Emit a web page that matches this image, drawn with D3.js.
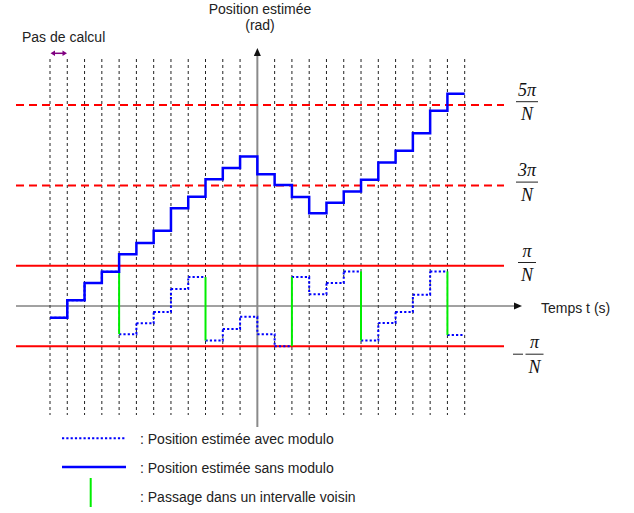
<!DOCTYPE html>
<html>
<head>
<meta charset="utf-8">
<script src="https://cdn.jsdelivr.net/npm/d3@7"></script>
<style>
  body { margin: 0; background: #fff; }
  text { font-family: "Liberation Sans", Arial, sans-serif; font-size: 14px; fill: #222; }
  .frac { font-family: "Liberation Serif", "Times New Roman", serif; font-style: italic; font-size: 18px; fill: #111; }
</style>
</head>
<body>
<div id="chart"></div>
<script>
// Estimated position per computation step, in units of pi/N
var sansModulo = [-0.29, 0.14, 0.57, 0.85, 1.29, 1.57, 1.87, 2.43, 2.72, 3.15, 3.43, 3.72,
                  3.28, 3.01, 2.71, 2.31, 2.57, 2.85, 3.14, 3.57, 3.86, 4.30, 4.86, 5.28];
var avecModulo = [-0.29, 0.14, 0.57, 0.85, -0.70, -0.43, -0.15, 0.42, 0.72, -0.86, -0.57, -0.27,
                  -0.70, -1.00, 0.72, 0.29, 0.57, 0.86, -0.86, -0.42, -0.15, 0.28, 0.86, -0.72];
// steps where the modulo value jumps into the neighbouring interval
var passages = [4, 9, 14, 18, 23];
// reference levels (units of pi/N) and their labels
var niveaux = [5, 3, 1, -1];
var niveauNum = ["5π", "3π", "π", "π"];
var nbPas = 24;

var svgWidth = 634;
var svgHeight = 513;

var svg = d3.select("#chart")
  .append("svg")
  .attr("width", svgWidth)
  .attr("height", svgHeight);

var x = d3.scaleLinear().domain([0, nbPas]).range([50, 464.7]);
var y = d3.scaleLinear().domain([-1, 5]).range([346.2, 105]);

var xLeft = 16, xRight = 504;

// vertical dashed step lines
svg.append("g").selectAll("line")
  .data(d3.range(0, nbPas + 1).filter(function(i) { return i !== 12; }))
  .enter()
  .append("line")
  .attr("x1", d => x(d)).attr("x2", d => x(d))
  .attr("y1", 59).attr("y2", 415)
  .attr("stroke", "#222")
  .attr("stroke-width", 1)
  .attr("stroke-dasharray", "3,3");

// time axis
svg.append("line")
  .attr("x1", xLeft).attr("x2", 515)
  .attr("y1", y(0)).attr("y2", y(0))
  .attr("stroke", "#444").attr("stroke-width", 1);
svg.append("path")
  .attr("d", `M522,${y(0)} L514,${y(0) - 3.5} L514,${y(0) + 3.5} Z`)
  .attr("fill", "#111");

// position axis
svg.append("line")
  .attr("x1", x(12)).attr("x2", x(12))
  .attr("y1", 54).attr("y2", 427)
  .attr("stroke", "#8a8a8a").attr("stroke-width", 2);
svg.append("path")
  .attr("d", `M${x(12)},48 L${x(12) - 3.5},56 L${x(12) + 3.5},56 Z`)
  .attr("fill", "#111");

// red reference levels
svg.append("g").selectAll("line")
  .data(niveaux)
  .enter()
  .append("line")
  .attr("x1", xLeft).attr("x2", xRight)
  .attr("y1", d => y(d)).attr("y2", d => y(d))
  .attr("stroke", "#ff0000")
  .attr("stroke-width", 2)
  .attr("stroke-dasharray", d => Math.abs(d) > 1 ? "8,5" : null);

// fraction labels
niveaux.forEach(function(v, i) {
  var lineY = v < 0 ? y(v) + 8 : y(v) - 3.3;
  var cx = v < 0 ? 534.5 : 527;
  var half = v === 1 || v === -1 ? 9 : 11;
  var g = svg.append("g");
  g.append("text").attr("class", "frac")
    .attr("x", cx).attr("y", lineY - 6)
    .attr("text-anchor", "middle").text(niveauNum[i]);
  g.append("line")
    .attr("x1", cx - half).attr("x2", cx + half)
    .attr("y1", lineY).attr("y2", lineY)
    .attr("stroke", "#222").attr("stroke-width", 1);
  g.append("text").attr("class", "frac")
    .attr("x", cx).attr("y", lineY + 18.5)
    .attr("text-anchor", "middle").text("N");
  if (v < 0) {
    g.append("line")
      .attr("x1", 513).attr("x2", 523)
      .attr("y1", lineY).attr("y2", lineY)
      .attr("stroke", "#222").attr("stroke-width", 1);
  }
});

// modulo staircase: dotted, with green jumps
var dotted = "";
avecModulo.forEach(function(v, k) {
  dotted += `M${x(k)},${y(v)}H${x(k + 1)}`;
  if (k + 1 < avecModulo.length && passages.indexOf(k + 1) < 0) {
    dotted += `V${y(avecModulo[k + 1])}`;
  }
});
svg.append("path")
  .attr("d", dotted)
  .attr("fill", "none")
  .attr("stroke", "#0000ff")
  .attr("stroke-width", 2)
  .attr("stroke-dasharray", "2.2,2.1");

svg.append("g").selectAll("line")
  .data(passages)
  .enter()
  .append("line")
  .attr("x1", d => x(d)).attr("x2", d => x(d))
  .attr("y1", d => y(avecModulo[d - 1])).attr("y2", d => y(avecModulo[d]))
  .attr("stroke", "#00ee00")
  .attr("stroke-width", 2);

// staircase without modulo
var solid = d3.line()
  .x(d => x(d.t))
  .y(d => y(d.v))
  .curve(d3.curveStepAfter);
var solidPts = sansModulo.map((v, k) => ({ t: k, v: v }));
solidPts.push({ t: nbPas, v: sansModulo[nbPas - 1] });
svg.append("path")
  .attr("d", solid(solidPts))
  .attr("fill", "none")
  .attr("stroke", "#0000ff")
  .attr("stroke-width", 2.5);

// titles
svg.append("text").attr("x", 260).attr("y", 13.5).attr("text-anchor", "middle").text("Position estimée");
svg.append("text").attr("x", 260).attr("y", 29.5).attr("text-anchor", "middle").text("(rad)");
svg.append("text").attr("x", 541).attr("y", 312.5).text("Temps t (s)");
svg.append("text").attr("x", 22).attr("y", 42).text("Pas de calcul");

// step-size double arrow
var ay = 53.3;
svg.append("line").attr("x1", 53).attr("x2", 65).attr("y1", ay).attr("y2", ay)
  .attr("stroke", "#800080").attr("stroke-width", 1.5);
svg.append("path")
  .attr("d", `M50.5,${ay} L55,${ay - 2.7} L55,${ay + 2.7} Z M67,${ay} L62.5,${ay - 2.7} L62.5,${ay + 2.7} Z`)
  .attr("fill", "#800080");

// legend
svg.append("line").attr("x1", 62).attr("x2", 126).attr("y1", 438.3).attr("y2", 438.3)
  .attr("stroke", "#0000ff").attr("stroke-width", 2).attr("stroke-dasharray", "2.2,2.1");
svg.append("line").attr("x1", 62).attr("x2", 126).attr("y1", 467).attr("y2", 467)
  .attr("stroke", "#0000ff").attr("stroke-width", 2.5);
svg.append("line").attr("x1", 90.7).attr("x2", 90.7).attr("y1", 478).attr("y2", 507)
  .attr("stroke", "#00ee00").attr("stroke-width", 2);

svg.append("text").attr("x", 140).attr("y", 444).text(": Position estimée avec modulo");
svg.append("text").attr("x", 140).attr("y", 473).text(": Position estimée sans modulo");
svg.append("text").attr("x", 140).attr("y", 502).text(": Passage dans un intervalle voisin");
</script>
</body>
</html>
